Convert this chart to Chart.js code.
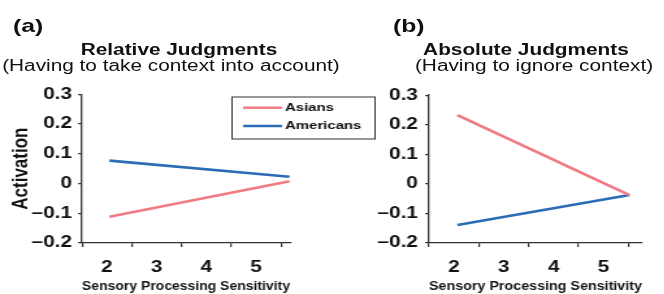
<!DOCTYPE html>
<html><head><meta charset="utf-8">
<script src="https://cdn.jsdelivr.net/npm/chart.js@4/dist/chart.umd.min.js"></script>
<style>
html,body{margin:0;padding:0;background:#fff;overflow:hidden;width:664px;height:294px;}
#wrap{position:absolute;left:0;top:0;width:510.77px;height:294px;transform:scaleX(1.3);transform-origin:0 0;font-family:"Liberation Sans",Arial,sans-serif;color:#111;}
.t{position:absolute;white-space:nowrap;line-height:1;}
canvas{position:absolute;}
</style></head><body>
<div id="wrap">
  <div class="t" style="left:10px;top:15.5px;font-size:19px;font-weight:bold">(a)</div>
  <div class="t" style="left:37.7px;width:200px;text-align:center;top:41.8px;font-size:16px;font-weight:bold">Relative Judgments</div>
  <div class="t" style="left:-18.5px;width:300px;text-align:center;top:58.3px;font-size:16px;">(Having to take context into account)</div>
  <div class="t" style="left:302.3px;top:15.5px;font-size:19px;font-weight:bold">(b)</div>
  <div class="t" style="left:304.6px;width:200px;text-align:center;top:41.8px;font-size:16px;font-weight:bold">Absolute Judgments</div>
  <div class="t" style="left:290.8px;width:240px;text-align:center;top:58.3px;font-size:16px;">(Having to ignore context)</div>
  <canvas id="cA" width="300" height="214" style="left:0;top:80px;width:300px;height:214px"></canvas>
  <canvas id="cB" width="241" height="214" style="left:270px;top:80px;width:241px;height:214px"></canvas>
</div>
<script>
// ---- data ----
const yTicks = [-0.2, -0.1, 0, 0.1, 0.2, 0.3];
const xTickValues = [1.5, 2, 2.5, 3, 3.5, 4, 4.5, 5, 5.5];
const seriesNames = ['Asians', 'Americans'];
const relSPS = [2.05, 5.67];
const relAsians = [-0.112, 0.008];
const relAmericans = [0.077, 0.023];
const absSPS = [2.07, 5.52];
const absAsians = [0.232, -0.038];
const absAmericans = [-0.139, -0.038];

const seriesColors = ['#f07a83', '#2b6cb5'];
const FONT = '"Liberation Sans", Arial, sans-serif';
Chart.defaults.font.family = FONT;
Chart.defaults.color = '#111';

const boxLegend = {
  id: 'boxLegend',
  afterDraw(chart, args, o) {
    const ctx = chart.ctx;
    ctx.save();
    ctx.fillStyle = '#fff';
    ctx.fillRect(o.x, o.y, o.w, o.h);
    ctx.strokeStyle = '#333';
    ctx.lineWidth = 1;
    ctx.strokeRect(o.x, o.y, o.w, o.h);
    chart.data.datasets.forEach((ds, i) => {
      const yy = o.y + o.first + i * o.gap;
      ctx.strokeStyle = ds.borderColor;
      ctx.lineWidth = 2.5;
      ctx.beginPath();
      ctx.moveTo(o.x + o.lx0, yy);
      ctx.lineTo(o.x + o.lx1, yy);
      ctx.stroke();
      ctx.fillStyle = '#111';
      ctx.font = 'bold 11.5px ' + FONT;
      ctx.textBaseline = 'middle';
      ctx.textAlign = 'left';
      ctx.fillText(ds.label, o.x + o.tx, yy);
    });
    ctx.restore();
  }
};

function pts(xs, ys) { return xs.map((x, i) => ({ x: x, y: ys[i] })); }

function makeChart(id, xs, s1, s2, cfg) {
  const plugins = cfg.legend ? [boxLegend] : [];
  return new Chart(document.getElementById(id), {
    type: 'line',
    data: {
      datasets: [
        { label: seriesNames[0], data: pts(xs, s1), borderColor: seriesColors[0], borderWidth: 2.6, pointRadius: 0, fill: false },
        { label: seriesNames[1], data: pts(xs, s2), borderColor: seriesColors[1], borderWidth: 2.6, pointRadius: 0, fill: false }
      ]
    },
    plugins: plugins,
    options: {
      responsive: false,
      animation: false,
      layout: { padding: { top: cfg.padTop, right: cfg.padRight, left: 0, bottom: 0 } },
      plugins: {
        legend: { display: false },
        tooltip: { enabled: false },
        boxLegend: cfg.legend || {}
      },
      scales: {
        x: {
          type: 'linear',
          min: 1.5,
          max: cfg.xMax,
          afterBuildTicks: s => { s.ticks = xTickValues.map(v => ({ value: v })); },
          afterFit: s => { s.height = 51; },
          border: { display: true, color: '#333', width: 1.3 },
          grid: {
            drawOnChartArea: false, drawTicks: true, tickLength: 4, lineWidth: 1.2,
            color: c => (c.tick && Number.isInteger(c.tick.value)) ? 'rgba(0,0,0,0)' : '#333'
          },
          ticks: {
            autoSkip: false, maxRotation: 0, padding: 10.5,
            font: { size: 16, weight: 'bold' }, color: '#111',
            callback: v => Number.isInteger(v) ? String(v) : ''
          },
          title: { display: true, text: 'Sensory Processing Sensitivity', font: { size: 13, weight: 'bold' }, color: '#111', padding: { top: 0, bottom: 0 } }
        },
        y: {
          min: -0.2,
          max: 0.3,
          afterBuildTicks: s => { s.ticks = yTicks.map(v => ({ value: v })); },
          afterFit: s => { s.width = cfg.yWidth; },
          border: { display: true, color: '#333', width: 1.3 },
          grid: { drawOnChartArea: false, drawTicks: true, tickLength: 3, color: '#333', lineWidth: 1.2 },
          ticks: {
            padding: cfg.yPad,
            font: { size: 16, weight: 'bold' }, color: '#111',
            callback: v => { const r = Math.round(v * 10) / 10; return r < 0 ? '\u2013' + Math.abs(r) : String(r); }
          },
          title: { display: cfg.yTitle, text: 'Activation', font: { size: 17, weight: 'bold' }, color: '#111', padding: { top: 6, bottom: 0 } }
        }
      }
    }
  });
}

makeChart('cA', relSPS, relAsians, relAmericans, {
  xMax: 5.68, yWidth: 63.1, padRight: 76.9, padTop: 11, yPad: 4.7, yTitle: true,
  legend: { x: 178.5, y: 17, w: 110, h: 42, first: 10.7, gap: 18.3, lx0: 8.4, lx1: 38.4, tx: 40.7 }
});
makeChart('cB', absSPS, absAsians, absAmericans, {
  xMax: 5.77, yWidth: 60, padRight: 17.2, padTop: 10.5, yPad: 5.5, yTitle: false,
  legend: null
});
</script>
</body></html>
